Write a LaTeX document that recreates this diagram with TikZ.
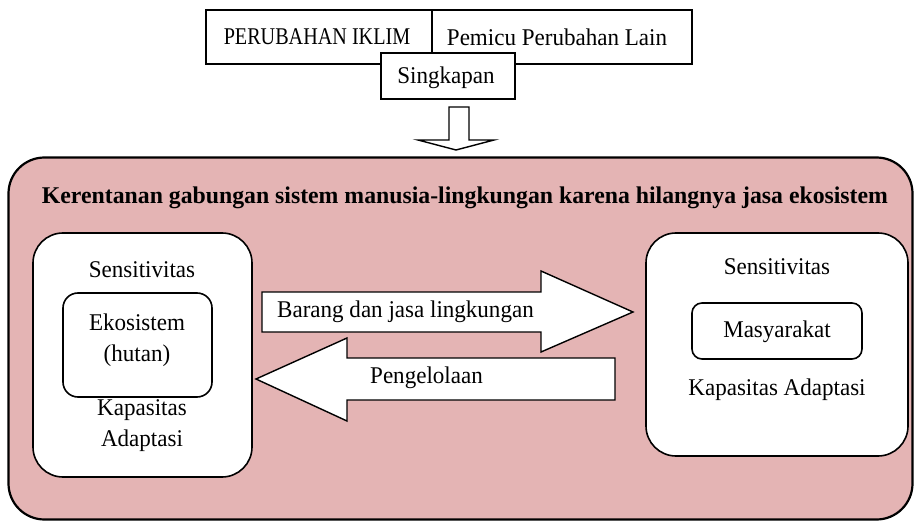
\documentclass[tikz,border=0pt]{standalone}
\usepackage{fontspec}
\setmainfont{Liberation Serif}[FakeStretch=0.96]
\newfontfamily\capsfont{Liberation Serif}[FakeStretch=0.84]
\newfontfamily\titlefont{Liberation Serif}[FakeStretch=0.99]
\definecolor{pinkbg}{RGB}{228,180,180}
\begin{document}
\begin{tikzpicture}[x=1pt,y=-1pt,
  txt/.style={inner sep=0pt, font=\fontsize{24}{28}\selectfont},
  topbox/.style={draw, line width=1.4pt, fill=white, inner sep=0pt},
  rbox/.style={draw, line width=1.6pt, fill=white, inner sep=0pt},
  fatarrow/.style={draw, line width=1.4pt, fill=white, line join=miter}]
\useasboundingbox (0,0) rectangle (915,521);
% top boxes
\node[topbox, minimum width=226pt, minimum height=54pt] (iklim) at (319,37) {};
\node[topbox, minimum width=260pt, minimum height=54pt] (pemicu) at (562,37) {};
\node[topbox, minimum width=134pt, minimum height=46pt] (singkapan) at (448,76) {};
\node[txt, font=\fontsize{24}{28}\capsfont] (tiklim) at (317,37) {PERUBAHAN IKLIM};
\node[txt] (tpemicu) at (557,37) {Pemicu Perubahan Lain};
\node[txt] (tsingkapan) at (446,78) {Singkapan};
% hollow down arrow
\draw[fatarrow] (449,107) -- (469,107) -- (469,140) -- (494,140) -- (456,150) -- (418,140) -- (449,140) -- cycle;
% outer box
\node[draw, fill=pinkbg, line width=2.2pt, rounded corners=36pt, minimum width=904pt, minimum height=362pt, inner sep=0pt] (outer) at (460.5,338.5) {};
\node[txt, font=\fontsize{24}{28}\titlefont\bfseries] (title) at (465,198) {Kerentanan gabungan sistem manusia-lingkungan karena hilangnya jasa ekosistem};
% left box
\node[rbox, rounded corners=30pt, minimum width=219pt, minimum height=244pt] (lbox) at (142.5,355) {};
\node[rbox, rounded corners=15pt, minimum width=149pt, minimum height=104pt] (eko) at (137.5,345) {};
\node[txt] (lsens) at (142,270) {Sensitivitas};
\node[txt] (teko) at (137,322) {Ekosistem};
\node[txt] (thutan) at (137,356) {(hutan)};
\node[txt] (lkap) at (142,410) {Kapasitas};
\node[txt] (lada) at (142,441) {Adaptasi};
% right box
\node[rbox, rounded corners=30pt, minimum width=262pt, minimum height=223pt] (rbox) at (777,344.5) {};
\node[rbox, rounded corners=10pt, minimum width=170pt, minimum height=56pt] (masy) at (777,331) {};
\node[txt] (rsens) at (777,267) {Sensitivitas};
\node[txt] (tmasy) at (777,332) {Masyarakat};
\node[txt] (rkap) at (777,390) {Kapasitas Adaptasi};
% fat arrows
\draw[fatarrow] (262,292) -- (541,292) -- (541,271) -- (633,312) -- (541,352) -- (541,332) -- (262,332) -- cycle;
\node[txt, anchor=west] (tbarang) at (277,312) {Barang dan jasa lingkungan};
\draw[fatarrow] (615,358) -- (347,358) -- (347,338) -- (256,379) -- (347,421) -- (347,400) -- (615,400) -- cycle;
\node[txt, anchor=west] (tpeng) at (370,378) {Pengelolaan};
\end{tikzpicture}
\end{document}
